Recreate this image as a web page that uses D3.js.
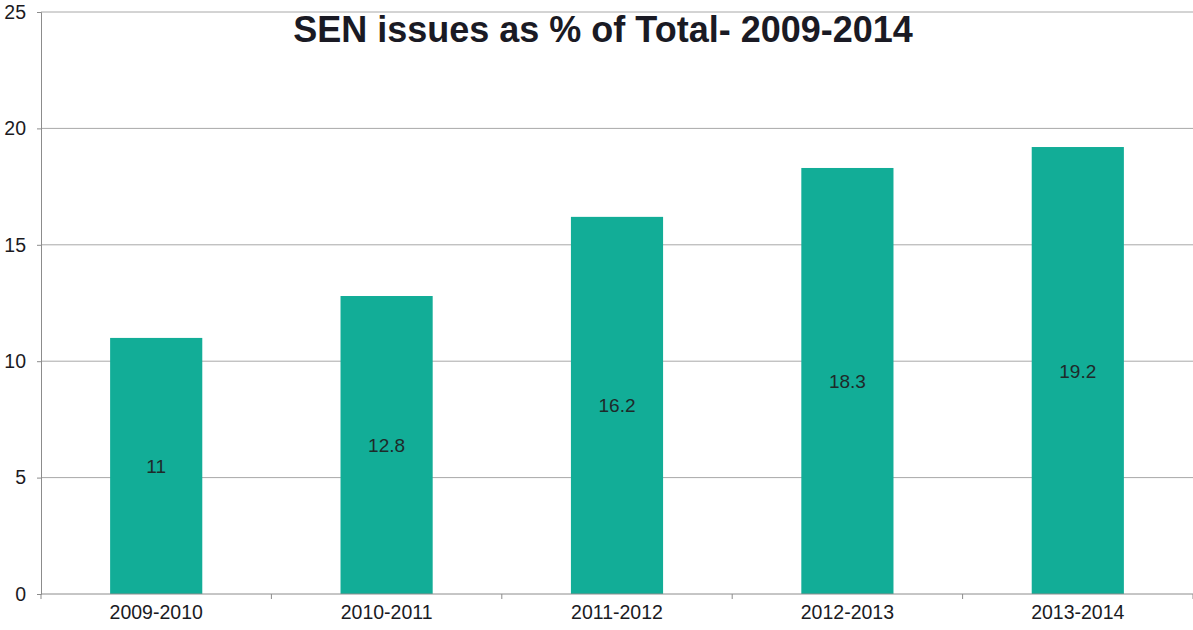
<!DOCTYPE html>
<html>
<head>
<meta charset="utf-8">
<script src="https://cdn.jsdelivr.net/npm/d3@7"></script>
<style>
  body { margin: 0; background: #fff; }
  svg { font-family: "Liberation Sans", Arial, sans-serif; }
  .grid line { stroke: #a8a8a8; stroke-width: 1; }
  .axis path, .axis line { stroke: #8c8c8c; }
  .axis text { fill: #1b1b1f; font-size: 19.5px; }
  .bar-label { fill: #1e2a2a; font-size: 19px; text-anchor: middle; }
  .title { font-size: 36px; font-weight: bold; fill: #1a1a24; text-anchor: middle; }
</style>
</head>
<body>
<div id="chart"></div>
<script>
const categories = ['2009-2010', '2010-2011', '2011-2012', '2012-2013', '2013-2014'];
const values = [11, 12.8, 16.2, 18.3, 19.2];
const yTicks = [0, 5, 10, 15, 20, 25];

const width = 1193, height = 630;
const margin = {top: 12, right: 0, bottom: 36, left: 41};
const chartWidth = width - margin.left - margin.right,
      chartHeight = height - margin.top - margin.bottom;

const svg = d3.select('#chart').append('svg')
  .attr('width', width)
  .attr('height', height);

const chart = svg.append('g')
  .attr('transform', `translate(${margin.left}, ${margin.top})`);

const x = d3.scaleBand().domain(categories).range([0, chartWidth]).paddingInner(0.6).paddingOuter(0.3);
const xb = d3.scaleBand().domain(categories).range([0, chartWidth]);
const y = d3.scaleLinear().domain([0, 25]).range([chartHeight, 0]);

// gridlines
chart.append('g')
  .attr('class', 'grid')
  .selectAll('line')
  .data(yTicks.filter(d => d > 0))
  .enter().append('line')
  .attr('x1', 0)
  .attr('x2', chartWidth)
  .attr('y1', d => y(d))
  .attr('y2', d => y(d));

chart.append('g')
  .attr('class', 'axis axis--y')
  .call(d3.axisLeft(y).tickValues(yTicks).tickSize(4).tickPadding(11))
  .call(g => g.selectAll('text').attr('text-anchor', 'end'));

chart.selectAll('.bar')
  .data(values)
  .enter().append('rect')
  .attr('class', 'bar')
  .attr('x', (d, i) => x(categories[i]))
  .attr('width', x.bandwidth())
  .attr('y', d => y(d))
  .attr('height', d => chartHeight - y(d))
  .attr('fill', '#12ad97');

chart.selectAll('.bar-label')
  .data(values)
  .enter().append('text')
  .attr('class', 'bar-label')
  .attr('x', (d, i) => x(categories[i]) + x.bandwidth() / 2)
  .attr('y', d => y(d / 2) + 7)
  .text(d => d);

// x axis: ticks at category boundaries
const xAxis = chart.append('g')
  .attr('class', 'axis axis--x')
  .attr('transform', `translate(0, ${chartHeight})`);

xAxis.append('line')
  .attr('x1', 0).attr('x2', chartWidth);

xAxis.selectAll('.tick-mark')
  .data(categories.map((c, i) => i).concat([categories.length]))
  .enter().append('line')
  .attr('x1', d => d * xb.step())
  .attr('x2', d => d * xb.step())
  .attr('y1', 0).attr('y2', 5);

xAxis.selectAll('text')
  .data(categories)
  .enter().append('text')
  .attr('x', d => xb(d) + xb.bandwidth() / 2)
  .attr('y', 25)
  .attr('text-anchor', 'middle')
  .text(d => d);

svg.append('text')
  .attr('class', 'title')
  .attr('x', 603)
  .attr('y', 42)
  .text('SEN issues as % of Total- 2009-2014');
</script>
</body>
</html>
